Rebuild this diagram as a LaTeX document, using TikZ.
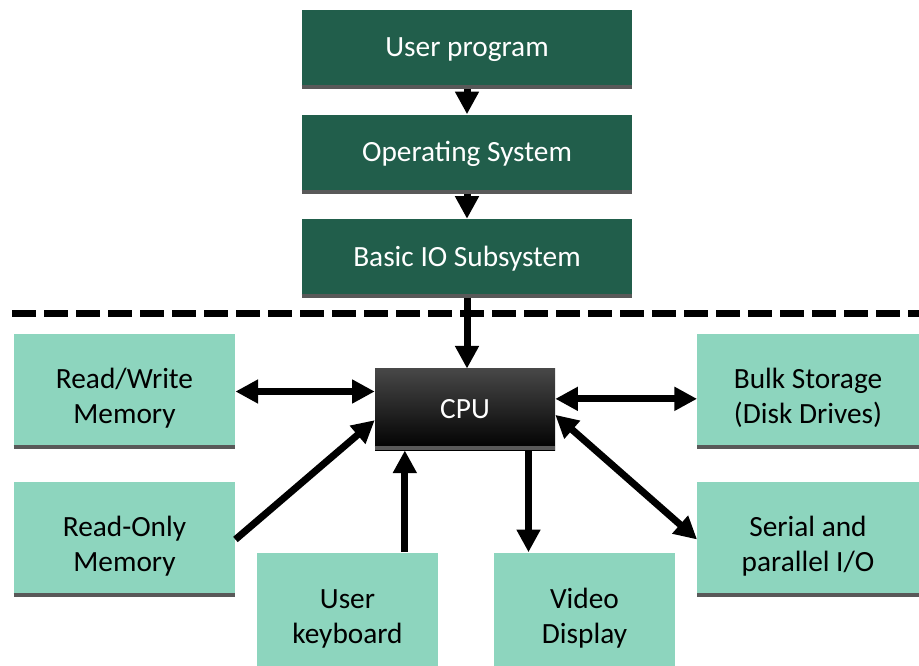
\documentclass[tikz,border=0pt]{standalone}
\usepackage{fontspec}
\setmainfont{Carlito}
\usetikzlibrary{arrows.meta,positioning}
\definecolor{dark}{HTML}{215E4B}
\definecolor{light}{HTML}{8DD5BE}
\definecolor{rim}{HTML}{595959}

\begin{document}
\begin{tikzpicture}[x=0.75pt,y=-0.75pt,font=\fontsize{22}{26.25}\selectfont,node distance=18.75pt,
top/.style={fill=dark,text=white,minimum width=247.5pt,minimum height=59.25pt,inner sep=0pt},
dev/.style={fill=light,minimum width=166pt,minimum height=86pt,align=center,inner sep=0pt,text height=50pt,text depth=2pt},
cpubox/.style={top color=black!72,middle color=black,bottom color=black,text=white,minimum width=135pt,minimum height=61pt,inner sep=0pt},
a/.style={-{Triangle[length=17pt,width=17pt]},line width=5.25pt},
aa/.style={{Triangle[length=17pt,width=17pt]}-{Triangle[length=17pt,width=17pt]},line width=5.25pt}]
\useasboundingbox (0,0) rectangle (919,666);
% software layers
\node[top](up) at (467,49.5){User program};
\node[top,below=of up](os){Operating System};
\node[top,below=of os](bio){Basic IO Subsystem};
% hardware
\node[cpubox](cpu) at (465,409.5){CPU};
\node[dev](rw) at (124.5,391.5){Read/Write\\Memory};
\node[dev](rom) at (124.5,539.5){Read-Only\\Memory};
\node[dev](bulk) at (808,391.5){Bulk Storage\\(Disk Drives)};
\node[dev](sio) at (808,539.5){Serial and\\parallel I/O};
\node[dev,minimum width=135.75pt,minimum height=87.75pt](kb) at (347.5,611){User\\keyboard};
\node[dev,minimum width=135.75pt,minimum height=87.75pt](vd) at (584.5,611){Video\\Display};
\foreach \n in {up,os,bio,cpu,rw,rom,bulk,sio}
  \draw[draw=rim,line width=3pt]([yshift=1.5pt]\n.south west)--([yshift=1.5pt]\n.south east);
% boundary
\coordinate(dl) at (12,313);\coordinate(dr) at (919,313);
\draw[line width=5.25pt,dash pattern=on 18pt off 6pt](dl)--(dr);
% links
\draw[a](up)--(os);\draw[a](os)--(bio);
\draw[a](bio.south)--(bio.south |- cpu.north);
\draw[aa](rw.east)--(rw.east -| cpu.west);
\draw[a](rom.east)--([yshift=-8pt]cpu.west);
\coordinate(kbtop) at ([xshift=43pt]kb.north);
\draw[a](kbtop)--(kbtop |- cpu.south);
\coordinate(vdtop) at ([xshift=-42pt]vd.north);
\draw[a](vdtop |- cpu.south)--(vdtop);
\draw[aa]([yshift=8pt]cpu.east)--([yshift=8pt]cpu.east -| bulk.west);
\draw[aa]([yshift=-4pt]cpu.east)--(sio.west);
\end{tikzpicture}
\end{document}
